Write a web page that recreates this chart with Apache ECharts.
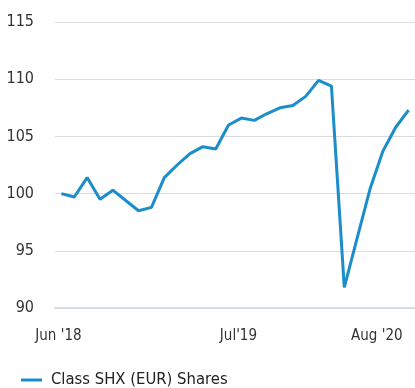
<!DOCTYPE html>
<html>
<head>
<meta charset="utf-8">
<script src="https://cdn.jsdelivr.net/npm/echarts@6/dist/echarts.min.js"></script>
<style>
  html, body { margin: 0; padding: 0; background: #fff; }
  #chart { width: 415px; height: 388px; }
</style>
</head>
<body>
<div id="chart"></div>
<script>
// Monthly observation slots, May 2018 .. Aug 2020
const months = [
  "2018-05", "2018-06", "2018-07", "2018-08", "2018-09", "2018-10", "2018-11",
  "2018-12", "2019-01", "2019-02", "2019-03", "2019-04", "2019-05", "2019-06",
  "2019-07", "2019-08", "2019-09", "2019-10", "2019-11", "2019-12", "2020-01",
  "2020-02", "2020-03", "2020-04", "2020-05", "2020-06", "2020-07", "2020-08"
];

// Share class value, rebased to 100
const shxValues = [
  100.0, 99.7, 101.4, 99.5, 100.3, 99.4, 98.5, 98.8, 101.4, 102.5,
  103.5, 104.1, 103.9, 106.0, 106.6, 106.4, 107.0, 107.5, 107.7, 108.5,
  109.9, 109.4, 91.8, 96.1, 100.4, 103.7, 105.8, 107.3
];

// Category index -> x-axis tick text
const tickIndex = [0, 14, 27];
const tickText = ["Jun '18", "Jul'19", "Aug '20"];

const seriesName = "Class SHX (EUR) Shares";

const yMin = 90, yMax = 115, yStep = 5;

const condensed = "'DejaVu Sans Condensed', 'DejaVu Sans', sans-serif";

const chart = echarts.init(document.getElementById('chart'), null, { renderer: 'canvas' });

chart.setOption({
  animation: false,
  grid: { left: 55, right: 0, top: 22, bottom: 80, containLabel: false },
  legend: {
    data: [seriesName],
    left: 21,
    top: 370,
    padding: 0,
    icon: 'rect',
    itemWidth: 21,
    itemHeight: 3,
    textStyle: {
      fontFamily: condensed,
      fontSize: 16.5,
      color: '#222',
      lineHeight: 20,
      padding: [0, 0, 0, 4]
    }
  },
  xAxis: {
    type: 'category',
    data: months,
    boundaryGap: true,
    axisLine: { show: true, lineStyle: { color: '#c9d6e5', width: 1.5 } },
    axisTick: { show: false },
    splitLine: { show: false },
    axisLabel: {
      interval: 0,
      margin: 21,
      fontFamily: condensed,
      fontSize: 15,
      color: '#333',
      alignMaxLabel: 'right',
      padding: [0, 6, 0, 0],
      formatter: function (val, idx) {
        const k = tickIndex.indexOf(idx);
        return k >= 0 ? tickText[k] : '';
      }
    }
  },
  yAxis: {
    type: 'value',
    min: yMin,
    max: yMax,
    interval: yStep,
    axisLine: { show: false },
    axisTick: { show: false },
    splitLine: { show: true, lineStyle: { color: '#dcdcdc', width: 1 } },
    axisLabel: {
      margin: 21,
      fontFamily: condensed,
      fontSize: 16,
      color: '#333',
      padding: [0, 0, 7, 0]
    }
  },
  series: [{
    name: seriesName,
    type: 'line',
    data: shxValues,
    symbol: 'none',
    smooth: false,
    lineStyle: { color: '#1a8dca', width: 3 },
    itemStyle: { color: '#1a8dca' }
  }]
});
</script>
</body>
</html>
